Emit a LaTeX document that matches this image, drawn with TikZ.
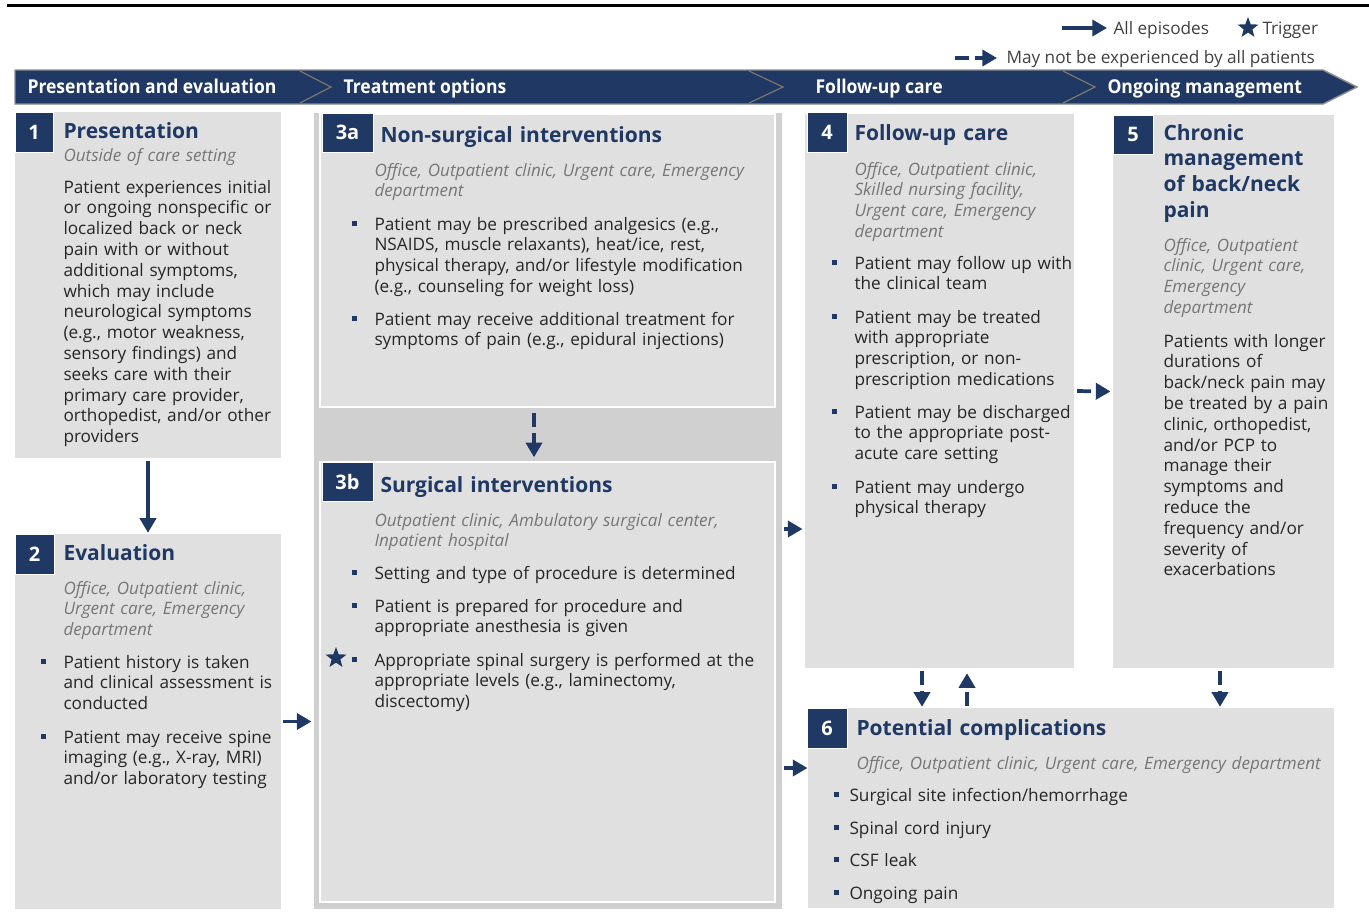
\documentclass[tikz,border=0pt]{standalone}
\usepackage{fontspec}
\setmainfont{Open Sans}
\newfontfamily\headfont[FakeStretch=0.92]{Open Sans}
\usetikzlibrary{arrows.meta,calc,fit,shapes.geometric}

\definecolor{navy}{RGB}{31,56,100}
\definecolor{boxgray}{RGB}{224,224,224}
\definecolor{groupgray}{RGB}{208,208,208}
\definecolor{subgray}{RGB}{118,118,118}
\definecolor{bodytext}{RGB}{38,38,38}
\definecolor{chevgray}{RGB}{125,118,108}

\newcommand{\bsq}[1][13pt]{\llap{\textcolor{navy}{\rule[3.2pt]{3.75pt}{3.75pt}}\hspace{#1}}}

\tikzset{every picture/.style={line width=0.75pt}}
\tikzset{
  box/.style={fill=boxgray, draw=none, inner sep=0pt},
  innerbox/.style={fill=boxgray, draw=white, line width=1.1pt, inner sep=0pt},
  badge/.style={fill=navy, draw=white, line width=0.75pt, inner sep=0pt},
  badgenum/.style={inner sep=0pt, text=white, font=\bfseries\fontsize{15}{18}\selectfont},
  bodytxt/.style={anchor=base west, inner sep=0pt, text width=360pt, align=left, text=bodytext, font=\fontsize{12.9}{15.6}\selectfont},
  subtxt/.style={bodytxt, text=subgray, font=\fontsize{12.8}{15.6}\selectfont\itshape},
  titletxt/.style={bodytxt, text=navy, font=\bfseries\fontsize{15.75}{19.3}\selectfont},
  headtxt/.style={anchor=base west, inner sep=0pt, text=white, font={\headfont\bfseries\fontsize{14.3}{16}\selectfont}},
  legtxt/.style={anchor=base west, inner sep=0pt, text=black!75, font=\fontsize{12.9}{15}\selectfont},
  trig/.style={star, star points=5, star point ratio=2.4, fill=navy, inner sep=0pt, minimum size=16.5pt},
  allarrow/.style={draw=navy, line width=2.8pt, -{Triangle[width=12pt,length=11pt]}},
  dasharrow/.style={allarrow, dash pattern=on 10.5pt off 4.5pt}
}

\begin{document}
\begin{tikzpicture}[x=0.75pt,y=0.75pt,yscale=-1,xscale=1]
\useasboundingbox (0,0) rectangle (1369,921);

%Straight Lines: top rule
\draw [line width=2.25pt] (7,5) -- (1369,5);

%Shape: phase bar
\draw [draw=black!45, fill=navy, line width=1.1pt] (15,70) -- (1323,70) -- (1357,87) -- (1323,104) -- (15,104) -- cycle;
\draw [draw=chevgray, line width=0.9pt] (300,71) -- (331,87) -- (300,103);
\draw [draw=chevgray, line width=0.9pt] (749,71) -- (783,87) -- (749,103);
\draw [draw=chevgray, line width=0.9pt] (1063,71) -- (1095,87) -- (1063,103);
% Text Node
\node [headtxt] (ph1) at (27,93) {Presentation and evaluation};
\node [headtxt] (ph2) at (343,93) {Treatment options};
\node [headtxt] (ph3) at (815,93) {Follow-up care};
\node [headtxt] (ph4) at (1107,93) {Ongoing management};

%Legend
\coordinate (lgA) at (1062,28);
\coordinate (lgB) at (1107,28);
\coordinate (lgC) at (955,58);
\coordinate (lgD) at (997,58);
\draw [allarrow] (lgA) -- (lgB);
\draw [dasharrow] (lgC) -- (lgD);
\node [legtxt] (lgall) at (1113,34) {All episodes};
\node [trig] (lgstar) at (1248,28) {};
\node [legtxt] (lgtrig) at (1262,34) {Trigger};
\node [legtxt] (lgmay) at (1006,63) {May not be experienced by all patients};

%Shape: boxes
\node [box, fit={(15,112) (281,458)}] (box1) {};
\node [box, fit={(15,534) (281,909)}] (box2) {};
\node [box, fill=groupgray, fit={(314,113) (782,909)}] (group3) {};
\node [innerbox, fit={(320,114) (775,407)}] (box3a) {};
\node [innerbox, fit={(320,462) (775,902)}] (box3b) {};
\node [box, fit={(805,114) (1074,668)}] (box4) {};
\node [box, fit={(1113,115) (1334,668)}] (box5) {};
\node [box, fit={(808,708) (1334,908)}] (box6) {};

%Shape: badges
\node [badge, fit={(15,112) (53,152)}] (bdg1) {};
\node [badge, fit={(15,534) (54,574)}] (bdg2) {};
\node [badge, fit={(322,113) (373,152)}] (bdg3a) {};
\node [badge, fit={(322,462) (373,501)}] (bdg3b) {};
\node [badge, fit={(807,112) (847,152)}] (bdg4) {};
\node [badge, fit={(1113,115) (1153,154)}] (bdg5) {};
\node [badge, fit={(807,708) (847,748)}] (bdg6) {};
\node [badgenum] (n1) at (bdg1) {1};
\node [badgenum] (n2) at (bdg2) {2};
\node [badgenum] (n3a) at (bdg3a) {3a};
\node [badgenum] (n3b) at (bdg3b) {3b};
\node [badgenum] (n4) at (bdg4) {4};
\node [badgenum] (n5) at (bdg5) {5};
\node [badgenum] (n6) at (bdg6) {6};

% Text Node: 1
\node [titletxt] (t1) at (63,138) {Presentation};
\node [subtxt] (s1) at (63,161) {Outside of care setting};
\node [bodytxt] (p1) at (63,193) {Patient experiences initial\\ or ongoing nonspecific or\\ localized back or neck\\ pain with or without\\ additional symptoms,\\ which may include\\ neurological symptoms\\ (e.g., motor weakness,\\ sensory findings) and\\ seeks care with their\\ primary care provider,\\ orthopedist, and/or other\\ providers};

% Text Node: 2
\node [titletxt] (t2) at (63,560) {Evaluation};
\node [subtxt] (s2) at (63,594) {Office, Outpatient clinic,\\ Urgent care, Emergency\\ department};
\node [bodytxt] (p2a) at (63,668) {\bsq Patient history is taken\\ and clinical assessment is\\ conducted};
\node [bodytxt] (p2b) at (63,743) {\bsq Patient may receive spine\\ imaging (e.g., X-ray, MRI)\\ and/or laboratory testing};

% Text Node: 3a
\node [titletxt] (t3a) at (380,142) {Non-surgical interventions};
\node [subtxt] (s3a) at (374,176) {Office, Outpatient clinic, Urgent care, Emergency\\ department};
\node [bodytxt] (p3aa) at (374,230) {\bsq Patient may be prescribed analgesics (e.g.,\\ NSAIDS, muscle relaxants), heat/ice, rest,\\ physical therapy, and/or lifestyle modification\\ (e.g., counseling for weight loss)};
\node [bodytxt] (p3ab) at (374,325) {\bsq Patient may receive additional treatment for\\ symptoms of pain (e.g., epidural injections)};

% Text Node: 3b
\node [titletxt] (t3b) at (380,492) {Surgical interventions};
\node [subtxt] (s3b) at (374,526) {Outpatient clinic, Ambulatory surgical center,\\ Inpatient hospital};
\node [bodytxt] (p3ba) at (374,579) {\bsq Setting and type of procedure is determined};
\node [bodytxt] (p3bb) at (374,612) {\bsq Patient is prepared for procedure and\\ appropriate anesthesia is given};
\node [bodytxt] (p3bc) at (374,666) {\bsq Appropriate spinal surgery is performed at the\\ appropriate levels (e.g., laminectomy,\\ discectomy)};
\node [trig] (star3b) at (336,658) {};

% Text Node: 4
\node [titletxt] (t4) at (854,140) {Follow-up care};
\node [subtxt] (s4) at (854,175) {Office, Outpatient clinic,\\ Skilled nursing facility,\\ Urgent care, Emergency\\ department};
\node [bodytxt] (p4a) at (854,269) {\bsq Patient may follow up with\\ the clinical team};
\node [bodytxt] (p4b) at (854,323) {\bsq Patient may be treated\\ with appropriate\\ prescription, or non-\\ prescription medications};
\node [bodytxt] (p4c) at (854,418) {\bsq Patient may be discharged\\ to the appropriate post-\\ acute care setting};
\node [bodytxt] (p4d) at (854,493) {\bsq Patient may undergo\\ physical therapy};

% Text Node: 5
\node [titletxt] (t5) at (1163,140) {Chronic\\ management\\ of back/neck\\ pain};
\node [subtxt] (s5) at (1163,251) {Office, Outpatient\\ clinic, Urgent care,\\ Emergency\\ department};
\node [bodytxt] (p5) at (1163,347) {Patients with longer\\ durations of\\ back/neck pain may\\ be treated by a pain\\ clinic, orthopedist,\\ and/or PCP to\\ manage their\\ symptoms and\\ reduce the\\ frequency and/or\\ severity of\\ exacerbations};

% Text Node: 6
\node [titletxt] (t6) at (856,735) {Potential complications};
\node [subtxt] (s6) at (856,769) {Office, Outpatient clinic, Urgent care, Emergency department};
\node [bodytxt] (p6a) at (849,801) {\bsq[8pt]Surgical site infection/hemorrhage};
\node [bodytxt] (p6b) at (849,834) {\bsq[8pt]Spinal cord injury};
\node [bodytxt] (p6c) at (849,866) {\bsq[8pt]CSF leak};
\node [bodytxt] (p6d) at (849,899) {\bsq[8pt]Ongoing pain};

%Straight Lines: connectors
\coordinate (y34) at (0,529);
\coordinate (y36) at (0,768);
\coordinate (x3a) at (534,0);
\coordinate (x46) at (922,0);
\coordinate (x64) at (967,0);
\coordinate (x56) at (1220,0);
\draw [allarrow, shorten <=2pt, shorten >=0.5pt] (box1.south) -- (box2.north);
\draw [allarrow, shorten <=1pt, shorten >=1.5pt] (box2.east) -- (group3.west |- box2.east);
\draw [dasharrow, shorten <=4pt, shorten >=3pt] (box3a.south -| x3a) -- (box3b.north -| x3a);
\draw [allarrow, shorten <=1pt, shorten >=1.5pt] (group3.east |- y34) -- (box4.west |- y34);
\draw [allarrow, shorten <=1pt, shorten >=0pt] (group3.east |- y36) -- (box6.west |- y36);
\draw [dasharrow, shorten <=2pt, shorten >=1.5pt] (box4.east) -- (box5.west);
\draw [dasharrow, shorten <=2pt, shorten >=0.5pt] (box4.south -| x46) -- (box6.north -| x46);
\draw [dasharrow, shorten <=1.5pt, shorten >=3.5pt] (box6.north -| x64) -- (box4.south -| x64);
\draw [dasharrow, shorten <=2pt, shorten >=0.5pt] (box5.south -| x56) -- (box6.north -| x56);

\end{tikzpicture}
\end{document}
